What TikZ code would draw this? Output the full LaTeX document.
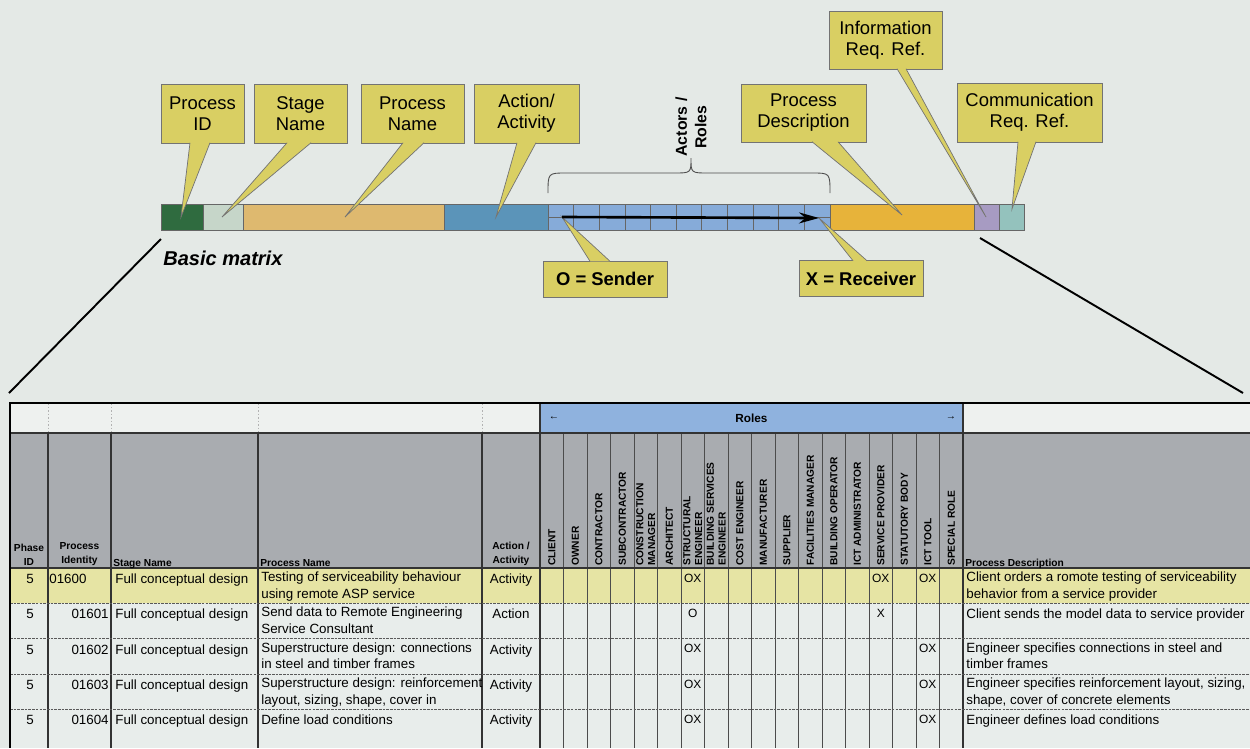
\documentclass[tikz,border=0pt]{standalone}
\usepackage{fontspec}
\setmainfont{Liberation Sans}
\usetikzlibrary{arrows.meta,calc}

\definecolor{paper}{HTML}{E4E9E6}
\definecolor{calloutfill}{HTML}{D9CF63}
\definecolor{idgreen}{HTML}{2F6B3F}
\definecolor{stagegrey}{HTML}{C6D6C9}
\definecolor{nametan}{HTML}{DEB96F}
\definecolor{actionblue}{HTML}{5B94B9}
\definecolor{roleblue}{HTML}{86ABD9}
\definecolor{descorange}{HTML}{E7B33A}
\definecolor{infpurple}{HTML}{A79BC2}
\definecolor{commteal}{HTML}{94C2BD}
\definecolor{headwhite}{HTML}{EEF1EF}
\definecolor{roleband}{HTML}{8FB2DE}
\definecolor{headgrey}{HTML}{A9ACB0}
\definecolor{rowyellow}{HTML}{E6E4A4}
\definecolor{rowwhite}{HTML}{E8EDEB}

\tikzset{
  callout/.style={
    % The shape:
    rectangle, inner sep=1pt,
    % The size:
    minimum height=1.18cm,
    % The border:
    draw=black!55, line width=0.4pt,
    % The filling:
    fill=calloutfill,
    % The text:
    align=center, font=\fontsize{10.5}{12}\selectfont},
  legend/.style={callout, minimum height=0.72cm, font=\fontsize{10.5}{12}\selectfont\bfseries},
  pin edge/.style={draw=black!55, line width=0.4pt},
  segment/.style={draw=black!60, line width=0.4pt},
  rule/.style={draw=black!80, line width=0.6pt},
  thin rule/.style={draw=black!70, line width=0.45pt},
  row rule/.style={draw=black!65, line width=0.45pt, dash pattern=on 1.5pt off 0.6pt},
  faint rule/.style={draw=black!30, line width=0.3pt, dash pattern=on 1pt off 1pt},
  heading/.style={font=\fontsize{5.8}{7.9}\selectfont\bfseries, inner sep=0pt},
  role heading/.style={heading, font=\fontsize{5.8}{6.6}\selectfont\bfseries,
    rotate=90, anchor=west, align=left},
  % first line always as tall as a strut, so that north sits one strut above the baseline
  entry/.style={font=\fontsize{7.6}{9.6}\selectfont, inner sep=0pt, align=left,
    execute at begin node=\strut},
  role mark/.style={font=\fontsize{6.8}{8}\selectfont, inner sep=0pt, anchor=base}
}

% pointer of a callout: node, anchor, inward shift, left and right base, tip
\newcommand\calloutpin[6]{%
  \fill[calloutfill] ($(#1.#2)+(#4,#3)$) -- (#6) -- ($(#1.#2)+(#5,#3)$) -- cycle;
  \draw[pin edge] ($(#1.#2)+(#4,#3)$) -- (#6) -- ($(#1.#2)+(#5,#3)$);}

\begin{document}
\begin{tikzpicture}[x=0.02cm, y=-0.02cm]
  \fill[paper] (0,0) rectangle (1250,748);
  \useasboundingbox (0,0) rectangle (1250,748);

  % The basic matrix bar:
  \filldraw[segment, fill=idgreen]    (161,204) rectangle (203,230);
  \filldraw[segment, fill=stagegrey]  (203,204) rectangle (243,230);
  \filldraw[segment, fill=nametan]    (243,204) rectangle (444,230);
  \filldraw[segment, fill=actionblue] (444,204) rectangle (548,230);
  \filldraw[segment, fill=roleblue]   (548,204) rectangle (830,230);
  \foreach \k in {1,...,10}
    \draw[segment] (548+\k*25.64,204) -- ++(0,26);
  \draw[segment] (548,217) -- (830,217);
  \filldraw[segment, fill=descorange] (830,204) rectangle (974,230);
  \filldraw[segment, fill=infpurple]  (974,204) rectangle (999,230);
  \filldraw[segment, fill=commteal]   (999,204) rectangle (1024,230);

  % The brace over the roles:
  \draw[line width=0.5pt, black!70] (548,193) .. controls (548,173) .. (566,173)
    -- (674,173) .. controls (691,173) .. (691,158) .. controls (691,173) .. (708,173)
    -- (812,173) .. controls (830,173) .. (830,193);
  \node[rotate=90, align=center, inner sep=0pt,
        font=\fontsize{9}{11}\selectfont\bfseries] (actors) at (691,127) {Actors /\\Roles};

  \node[anchor=west, inner sep=0pt,
        font=\fontsize{11.4}{13}\selectfont\bfseries\itshape] (basic) at (163,258) {Basic matrix};

  % Tips of the callouts:
  \coordinate (idtip)    at (181,217);
  \coordinate (stagetip) at (222,217);
  \coordinate (nametip)  at (345,217);
  \coordinate (acttip)   at (496,217);
  \coordinate (desctip)  at (902,215);
  \coordinate (inftip)   at (986,217);
  \coordinate (commtip)  at (1012,209);
  \coordinate (sendtip)  at (562,217);
  \coordinate (recvtip)  at (819,218);

  % The callouts:
  \node[callout, minimum width=1.66cm] (pid)     at (202.5,113.5) {Process\\ID};
  \node[callout, minimum width=1.86cm] (stage)   at (300.5,113.5) {Stage\\Name};
  \node[callout, minimum width=2.06cm] (pname)   at (412.5,113.5) {Process\\Name};
  \node[callout, minimum width=2.10cm] (action)  at (526.5,113.5) {Action/\\Activity};
  \node[callout, minimum width=2.26cm, minimum height=1.16cm] (infref) at (885.5,40) {Information\\Req. Ref.};
  \node[callout, minimum width=2.50cm, minimum height=1.16cm] (pdesc)  at (803.5,113) {Process\\Description};
  \node[callout, minimum width=2.90cm] (commref) at (1029.5,112.5) {Communication\\Req. Ref.};
  \node[legend, minimum width=2.48cm] (sender)   at (605,279) {O = Sender};
  \node[legend, minimum width=2.48cm] (receiver) at (861,278.5) {X = Receiver};

  \calloutpin{pid}{south}{-0.6}{-12.5}{7.5}{idtip}
  \calloutpin{stage}{south}{-0.6}{-13.5}{10.5}{stagetip}
  \calloutpin{pname}{south}{-0.6}{-9.5}{11.5}{nametip}
  \calloutpin{action}{south}{-0.6}{-9.5}{9.5}{acttip}
  \calloutpin{infref}{south}{-0.6}{11.5}{20.5}{inftip}
  \calloutpin{pdesc}{south}{-0.6}{8.5}{34.5}{desctip}
  \calloutpin{commref}{south}{-0.6}{-11.5}{6.5}{commtip}
  \calloutpin{sender}{north}{0.6}{-15}{5}{sendtip}
  \calloutpin{receiver}{north}{0.6}{-8}{6}{recvtip}

  \draw[line width=1.5pt, -{Stealth[length=0.4cm, width=0.22cm]}] (sendtip) -- (recvtip);

  % Zoom lines down to the table:
  \coordinate (zoomL) at (161,239);  \coordinate (zoomLend) at (9,393);
  \coordinate (zoomR) at (980,238);  \coordinate (zoomRend) at (1243,393);
  \draw[line width=1.1pt] (zoomL) -- (zoomLend);
  \draw[line width=1.1pt] (zoomR) -- (zoomRend);

  % The table:
  \fill[headwhite] (10,403) rectangle (1250,433);
  \fill[roleband]  (540,403) rectangle (963,433);
  \fill[headgrey]  (10,433) rectangle (1250,568);
  \fill[rowyellow] (10,568) rectangle (1250,603.4);
  \fill[rowwhite]  (10,603.4) rectangle (1250,748);

  \foreach \x in {48,111,258,482}
    \draw[faint rule] (\x,403) -- (\x,433);
  \foreach \x in {48,111,258,482,540}
    \draw[rule] (\x,433) -- (\x,748);
  \foreach \k in {1,...,17}
    \draw[thin rule] (540+\k*23.5,433) -- (540+\k*23.5,748);
  \draw[rule] (540,403) -- (540,433);
  \draw[rule] (963,403) -- (963,748);
  \draw[rule] (10,433) -- (1250,433);
  \draw[rule] (10,568) -- (1250,568);
  \foreach \r in {1,...,4}
    \draw[row rule] (10,568+\r*35.4) -- (1250,568+\r*35.4);
  \draw[line width=1.1pt] (1250,403) -- (10,403) -- (10,748);

  % Headings:
  \node[heading, font=\fontsize{6.7}{8}\selectfont\bfseries] (roles) at (751.5,418) {Roles};
  \node[heading] (rolesL) at (554,418) {←};
  \node[heading] (rolesR) at (951,418) {→};
  \node[heading, align=center, anchor=south] (hphase) at (29,566)   {Phase\\ID};
  \node[heading, align=center, anchor=south] (hpid)   at (79.5,566) {Process\\Identity};
  \node[heading, anchor=base west] (hstage) at (113,566) {Stage Name};
  \node[heading, anchor=base west] (hname)  at (260,566) {Process Name};
  \node[heading, align=center, anchor=south] (hact)   at (511,566)  {Action /\\Activity};
  \node[heading, anchor=base west] (hdesc)  at (965,566) {Process Description};

  \foreach \role [count=\c] in {CLIENT, OWNER, CONTRACTOR, SUBCONTRACTOR,
      CONSTRUCTION\\MANAGER, ARCHITECT, STRUCTURAL\\ENGINEER, BUILDING SERVICES\\ENGINEER,
      COST ENGINEER, MANUFACTURER, SUPPLIER, FACILITIES MANAGER, BUILDING OPERATOR,
      ICT ADMINISTRATOR, SERVICE PROVIDER, STATUTORY BODY, ICT TOOL, SPECIAL ROLE}
    \node[role heading] (role\c) at ({540+(\c-0.5)*23.5},566) {\role};

  % Rows:
  \foreach \idx/\ida/\procid/\pname/\kind/\pdesc [count=\r] in {
    49/west/01600/{Testing of serviceability behaviour\\using remote ASP service}/Activity/{Client orders a romote testing of serviceability\\behavior from a service provider},
    109/east/01601/{Send data to Remote Engineering\\Service Consultant}/Action/{Client sends the model data to service provider},
    109/east/01602/{Superstructure design: connections\\in steel and timber frames}/Activity/{Engineer specifies connections in steel and\\timber frames},
    109/east/01603/{Superstructure design: reinforcement\\layout, sizing, shape, cover in}/Activity/{Engineer specifies reinforcement layout, sizing,\\shape, cover of concrete elements},
    109/east/01604/{Define load conditions}/Activity/{Engineer defines load conditions}}
  {
    \pgfmathsetmacro\rowtop{568+(\r-1)*35.4+3.2}
    \node[entry, anchor=north] (phase\r) at (30,\rowtop) {5};
    \node[entry, anchor=north \ida] (procid\r) at (\idx,\rowtop) {\procid};
    \node[entry, anchor=north west] (stage\r) at (115,\rowtop) {Full conceptual design};
    \node[entry, anchor=north west] (pname\r) at (261,\rowtop) {\pname};
    \node[entry, anchor=north] (kind\r) at (511,\rowtop) {\kind};
    \node[entry, anchor=north west] (pdesc\r) at (966,\rowtop) {\pdesc};
  }

  \foreach \r/\c/\m in {1/7/OX, 1/15/OX, 1/17/OX, 2/7/O, 2/15/X, 3/7/OX, 3/17/OX,
                        4/7/OX, 4/17/OX, 5/7/OX, 5/17/OX}
    \node[role mark] (mark\r-\c) at ({540+(\c-0.5)*23.5},{568+(\r-1)*35.4+14}) {\m};

\end{tikzpicture}
\end{document}
